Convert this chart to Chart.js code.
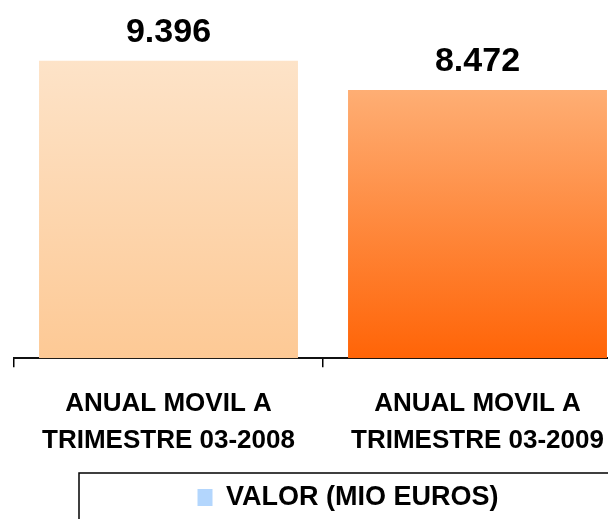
<!DOCTYPE html>
<html>
<head>
<meta charset="utf-8">
<script src="https://cdn.jsdelivr.net/npm/chart.js@4/dist/chart.umd.min.js"></script>
<style>
html, body { margin: 0; padding: 0; overflow: hidden; background: #fff; }
</style>
</head>
<body>
<canvas id="myChart" width="682" height="521"></canvas>
<script>
"use strict";

// data
var categories = [
	["ANUAL MOVIL A", "TRIMESTRE 03-2008"],
	["ANUAL MOVIL A", "TRIMESTRE 03-2009"]
];
var valores = [9396, 8472];
var serieLabel = "VALOR (MIO EUROS)";

// colours of each bar, top and bottom of the gradient
var topColors = ["#FDE3C8", "#FEAE74"];
var bottomColors = ["#FDC995", "#FF6407"];
var legendColor = "#B3D6FD";

var fontFamily = "'Liberation Sans', Arial, sans-serif";

// 9396 -> "9.396"
function formatNum(v) {
	return String(v).replace(/\B(?=(\d{3})+(?!\d))/g, ".");
}

function barGradient(context) {
	var chart = context.chart;
	var area = chart.chartArea;
	var i = context.dataIndex;
	if (!area || i === undefined) {
		return topColors[0];
	}
	var yTop = chart.scales.y.getPixelForValue(valores[i]);
	var g = chart.ctx.createLinearGradient(0, yTop, 0, area.bottom);
	g.addColorStop(0, topColors[i]);
	g.addColorStop(1, bottomColors[i]);
	return g;
}

// numbers above the bars
var valueLabels = {
	id: "valueLabels",
	afterDatasetsDraw: function (chart) {
		var ctx = chart.ctx;
		var meta = chart.getDatasetMeta(0);
		ctx.save();
		ctx.font = "bold 34px " + fontFamily;
		ctx.fillStyle = "#000";
		ctx.textAlign = "center";
		ctx.textBaseline = "alphabetic";
		meta.data.forEach(function (bar, i) {
			ctx.fillText(formatNum(valores[i]), bar.x, bar.y - 19);
		});
		ctx.restore();
	}
};

// frame round the legend
var legendBox = {
	id: "legendBox",
	afterDraw: function (chart) {
		var hb = chart.legend.legendHitBoxes[0];
		if (!hb) return;
		var ctx = chart.ctx;
		var cx = hb.left + hb.width / 2;
		ctx.save();
		ctx.strokeStyle = "#000";
		ctx.lineWidth = 1.5;
		ctx.strokeRect(cx - 269, hb.top - 11, 538, 120);
		ctx.restore();
	}
};

var ctx = document.getElementById("myChart");
var myChart = new Chart(ctx, {
	type: "bar",
	data: {
		labels: categories,
		datasets: [
			{
				label: serieLabel,
				data: valores,
				backgroundColor: barGradient,
				borderWidth: 0,
				barPercentage: 0.838,
				categoryPercentage: 1.0
			}
		]
	},
	options: {
		responsive: false,
		devicePixelRatio: 1,
		animation: false,
		layout: { padding: { left: 14, top: 10, right: 0, bottom: 0 } },
		scales: {
			x: {
				offset: true,
				grid: {
					offset: true,
					drawOnChartArea: false,
					drawTicks: true,
					tickLength: 9,
					color: "#000",
					lineWidth: 1.5
				},
				border: { display: true, color: "#111", width: 2 },
				ticks: {
					color: "#000",
					padding: 18,
					maxRotation: 0,
					autoSkip: false,
					font: { family: fontFamily, size: 26, weight: "bold", lineHeight: 1.42 }
				}
			},
			y: { display: false, min: 0, max: 11000 },
			y2: {
				position: "right",
				display: true,
				grid: { display: false },
				border: { display: false },
				ticks: { display: false },
				afterFit: function (scale) { scale.width = 50; }
			}
		},
		plugins: {
			tooltip: { enabled: false },
			legend: {
				position: "bottom",
				labels: {
					color: "#000",
					boxWidth: 15,
					boxHeight: 17,
					padding: 7,
					font: { family: fontFamily, size: 27, weight: "bold" },
					generateLabels: function () {
						return [{
							text: serieLabel,
							fillStyle: legendColor,
							strokeStyle: legendColor,
							lineWidth: 0,
							datasetIndex: 0
						}];
					}
				}
			}
		}
	},
	plugins: [valueLabels, legendBox]
});
</script>
</body>
</html>
